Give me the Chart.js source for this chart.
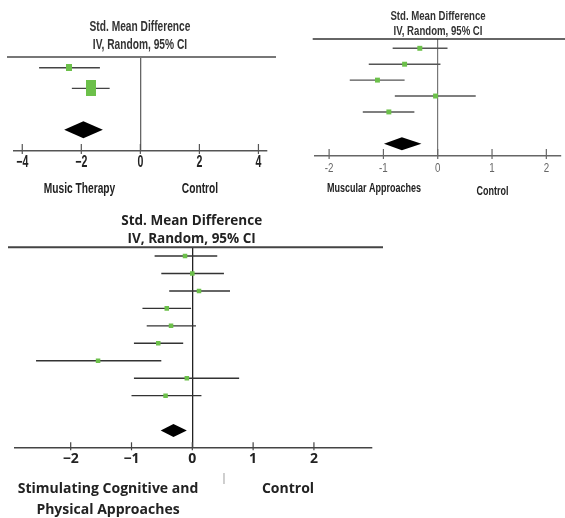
<!DOCTYPE html>
<html>
<head>
<meta charset="utf-8">
<script src="https://cdn.jsdelivr.net/npm/chart.js@4.4.1/dist/chart.umd.min.js"></script>
<style>
  html, body { margin: 0; padding: 0; background: #fff; }
  body { position: relative; width: 565px; height: 518px; overflow: hidden; }
  canvas { position: absolute; }
</style>
</head>
<body>
<canvas id="music" width="285" height="205" style="left:0;top:0"></canvas>
<canvas id="muscular" width="265" height="205" style="left:300px;top:0"></canvas>
<canvas id="stimulating" width="390" height="313" style="left:0;top:205px"></canvas>
<script>
// Music therapy vs control
const musicEst = [-2.41, -1.68];
const musicLo = [-3.43, -2.32];
const musicHi = [-1.37, -1.04];
const musicPooled = [-1.93, -2.58, -1.27]; // estimate, lower, upper
const musicTicks = [-4, -2, 0, 2, 4];
const musicTickLabels = ['\u22124', '\u22122', '0', '2', '4'];

// Muscular approaches vs control
const muscularEst = [-0.33, -0.61, -1.11, -0.04, -0.90];
const muscularLo = [-0.83, -1.27, -1.62, -0.79, -1.38];
const muscularHi = [0.18, 0.05, -0.61, 0.70, -0.43];
const muscularPooled = [-0.66, -0.99, -0.30];
const muscularTicks = [-2, -1, 0, 1, 2];
const muscularTickLabels = ['-2', '-1', '0', '1', '2'];

// Stimulating cognitive and physical approaches vs control
const stimEst = [-0.12, 0.00, 0.11, -0.42, -0.35, -0.56, -1.55, -0.09, -0.44];
const stimLo = [-0.62, -0.51, -0.38, -0.82, -0.75, -0.96, -2.57, -0.96, -1.00];
const stimHi = [0.41, 0.52, 0.62, -0.02, 0.06, -0.15, -0.51, 0.77, 0.15];
const stimPooled = [-0.31, -0.52, -0.09];
const stimTicks = [-2, -1, 0, 1, 2];
const stimTickLabels = ['\u22122', '\u22121', '0', '1', '2'];

const LIB = '"Liberation Sans", Arial, sans-serif';
const OPEN = '"Open Sans", "Noto Sans", sans-serif';
const GREEN = '#6cc04a';

// little green box used as point style, w x h pixels
function box(w, h) {
    const cv = document.createElement('canvas');
    cv.width = w;
    cv.height = h;
    const g = cv.getContext('2d');
    g.fillStyle = GREEN;
    g.fillRect(0, 0, w, h);
    return cv;
}

// text squeezed sideways, the source figure uses a condensed face
function drawText(ctx, t) {
    ctx.save();
    ctx.font = t.font;
    ctx.fillStyle = t.color;
    ctx.translate(t.x, t.y);
    ctx.scale(t.stretch || 1, 1);
    ctx.fillText(t.text, 0, 0);
    ctx.restore();
}

// draws the pooled diamond, header rule, crossing tick marks and the texts
function decor(c) {
    return {
        id: 'forestDecor',
        afterDatasetsDraw(chart) {
            const { ctx, scales: { x, y } } = chart;
            const r = y.getPixelForValue(c.est.length + 1);
            ctx.save();
            ctx.beginPath();
            ctx.moveTo(x.getPixelForValue(c.pooled[1]), r);
            ctx.lineTo(x.getPixelForValue(c.pooled[0]), r - c.half);
            ctx.lineTo(x.getPixelForValue(c.pooled[2]), r);
            ctx.lineTo(x.getPixelForValue(c.pooled[0]), r + c.half);
            ctx.closePath();
            ctx.fillStyle = '#000';
            ctx.fill();
            ctx.restore();
        },
        afterDraw(chart) {
            const { ctx, chartArea, scales: { x } } = chart;
            ctx.save();
            ctx.strokeStyle = c.ruleColor;
            ctx.lineWidth = c.ruleWidth;
            ctx.beginPath();
            ctx.moveTo(c.ruleFrom, chartArea.top);
            ctx.lineTo(c.ruleTo, chartArea.top);
            ctx.stroke();

            ctx.strokeStyle = c.axisColor;
            ctx.lineWidth = 1.2;
            x.ticks.forEach(t => {
                const px = x.getPixelForValue(t.value);
                ctx.beginPath();
                ctx.moveTo(px, chartArea.bottom - c.tickUp);
                ctx.lineTo(px, chartArea.bottom + c.tickDown);
                ctx.stroke();
            });

            ctx.textAlign = 'center';
            ctx.textBaseline = 'middle';
            if (c.ownTicks) {
                x.ticks.forEach((t, i) => drawText(ctx, {
                    text: c.tickLabels[i],
                    x: x.getPixelForValue(t.value),
                    y: chartArea.bottom + c.ownTicks.offset,
                    font: c.ownTicks.font,
                    color: c.tickColor,
                    stretch: c.ownTicks.stretch,
                }));
            }
            c.texts.forEach(t => drawText(ctx, t));
            ctx.restore();
        },
    };
}

function forestChart(id, c) {
    const rows = c.est.map((_, i) => i);
    const pointSet = {
        data: rows.map(i => ({ x: c.est[i], y: i })),
        pointStyle: c.boxStyle,
        pointRadius: c.boxRadius,
        backgroundColor: GREEN,
        borderWidth: 0,
    };
    const ciSets = rows.map(i => ({
        data: [{ x: c.lo[i], y: i }, { x: c.hi[i], y: i }],
        showLine: true,
        borderColor: c.ciColor,
        borderWidth: 1.4,
        pointRadius: 0,
    }));

    return new Chart(document.getElementById(id).getContext('2d'), {
        type: 'scatter',
        // first dataset is painted last, so the boxes sit on top of the lines
        data: { datasets: [pointSet, ...ciSets] },
        options: {
            responsive: false,
            animation: false,
            events: [],
            layout: { padding: c.padding },
            plugins: {
                legend: { display: false },
                tooltip: { enabled: false },
            },
            scales: {
                x: {
                    type: 'linear',
                    min: c.xMin,
                    max: c.xMax,
                    afterBuildTicks: s => { s.ticks = c.ticks.map(v => ({ value: v })); },
                    afterFit: s => { s.height = c.axisHeight; },
                    border: { display: true, color: c.axisColor, width: 1.5 },
                    grid: {
                        drawTicks: false,
                        color: ctx => (ctx.tick && ctx.tick.value === 0 ? c.zeroColor : 'rgba(0,0,0,0)'),
                        lineWidth: c.zeroWidth,
                    },
                    ticks: {
                        display: !c.ownTicks,
                        padding: c.tickPadding,
                        autoSkip: false,
                        maxRotation: 0,
                        color: c.tickColor,
                        font: c.tickFont,
                        callback: (v, i) => c.tickLabels[i],
                    },
                },
                y: {
                    type: 'linear',
                    reverse: true,
                    min: c.yMin,
                    max: c.yMax,
                    display: false,
                },
            },
        },
        plugins: [decor(c)],
    });
}

forestChart('music', {
    est: musicEst, lo: musicLo, hi: musicHi, pooled: musicPooled,
    ticks: musicTicks, tickLabels: musicTickLabels,
    xMin: -4.28, xMax: 4.29, yMin: -0.52, yMax: 4.03,
    padding: { left: 14, right: 18, top: 57, bottom: 0 },
    axisHeight: 54,
    boxStyle: [box(6, 7), box(10, 16)],
    boxRadius: 5,
    half: 8.5,
    ciColor: '#444',
    ruleFrom: 7, ruleTo: 276, ruleColor: '#777', ruleWidth: 2,
    axisColor: '#555', zeroColor: '#666', zeroWidth: 1.3,
    tickUp: 7, tickDown: 3,
    tickColor: '#222',
    ownTicks: { offset: 11.5, font: 'bold 16px ' + LIB, stretch: 0.66 },
    texts: [
        { text: 'Std. Mean Difference', x: 140, y: 26.5, font: 'bold 15px ' + LIB, color: '#333', stretch: 0.68 },
        { text: 'IV, Random, 95% CI', x: 140, y: 45, font: 'bold 15px ' + LIB, color: '#333', stretch: 0.68 },
        { text: 'Music Therapy', x: 79.5, y: 188.5, font: 'bold 15px ' + LIB, color: '#222', stretch: 0.68 },
        { text: 'Control', x: 200, y: 188.5, font: 'bold 15px ' + LIB, color: '#222', stretch: 0.68 },
    ],
});

forestChart('muscular', {
    est: muscularEst, lo: muscularLo, hi: muscularHi, pooled: muscularPooled,
    ticks: muscularTicks, tickLabels: muscularTickLabels,
    xMin: -2.26, xMax: 2.27, yMin: -0.585, yMax: 6.77,
    padding: { left: 15, right: 2, top: 39, bottom: 0 },
    axisHeight: 49,
    boxStyle: 'rect',
    boxRadius: 3.5,
    half: 6.5,
    ciColor: '#555',
    ruleFrom: 12.7, ruleTo: 265, ruleColor: '#333', ruleWidth: 1.5,
    axisColor: '#666', zeroColor: '#777', zeroWidth: 1.2,
    tickUp: 7, tickDown: 3,
    tickColor: '#666',
    ownTicks: { offset: 12, font: '13px ' + LIB, stretch: 0.75 },
    texts: [
        { text: 'Std. Mean Difference', x: 138, y: 16.5, font: 'bold 12.5px ' + LIB, color: '#333', stretch: 0.77 },
        { text: 'IV, Random, 95% CI', x: 138, y: 31.5, font: 'bold 12.5px ' + LIB, color: '#333', stretch: 0.77 },
        { text: 'Muscular Approaches', x: 74, y: 189, font: 'bold 12.5px ' + LIB, color: '#222', stretch: 0.72 },
        { text: 'Control', x: 192.5, y: 192, font: 'bold 12.5px ' + LIB, color: '#222', stretch: 0.72 },
    ],
});

forestChart('stimulating', {
    est: stimEst, lo: stimLo, hi: stimHi, pooled: stimPooled,
    ticks: stimTicks, tickLabels: stimTickLabels,
    xMin: -2.916, xMax: 2.95, yMin: -0.5, yMax: 10.96,
    padding: { left: 15, right: 18.3, top: 42.3, bottom: 0 },
    axisHeight: 70.7,
    boxStyle: 'rect',
    boxRadius: 3.2,
    half: 6.5,
    ciColor: '#333',
    ruleFrom: 8, ruleTo: 383, ruleColor: '#444', ruleWidth: 2,
    axisColor: '#444', zeroColor: '#222', zeroWidth: 1.3,
    tickUp: 5, tickDown: 3,
    tickPadding: 3, tickColor: '#222',
    tickFont: { family: OPEN, size: 14, weight: 'bold' },
    texts: [
        { text: 'Std. Mean Difference', x: 191.7, y: 16.5, font: 'bold 13.5px ' + OPEN, color: '#222' },
        { text: 'IV, Random, 95% CI', x: 191.7, y: 34.5, font: 'bold 13.5px ' + OPEN, color: '#222' },
        { text: 'Stimulating Cognitive and', x: 108, y: 284, font: 'bold 14px ' + OPEN, color: '#222' },
        { text: 'Physical Approaches', x: 108, y: 305, font: 'bold 14px ' + OPEN, color: '#222' },
        { text: 'Control', x: 288, y: 284, font: 'bold 14px ' + OPEN, color: '#222' },
        { text: '|', x: 224, y: 273, font: '10px ' + OPEN, color: '#777' },
    ],
});
</script>
</body>
</html>
